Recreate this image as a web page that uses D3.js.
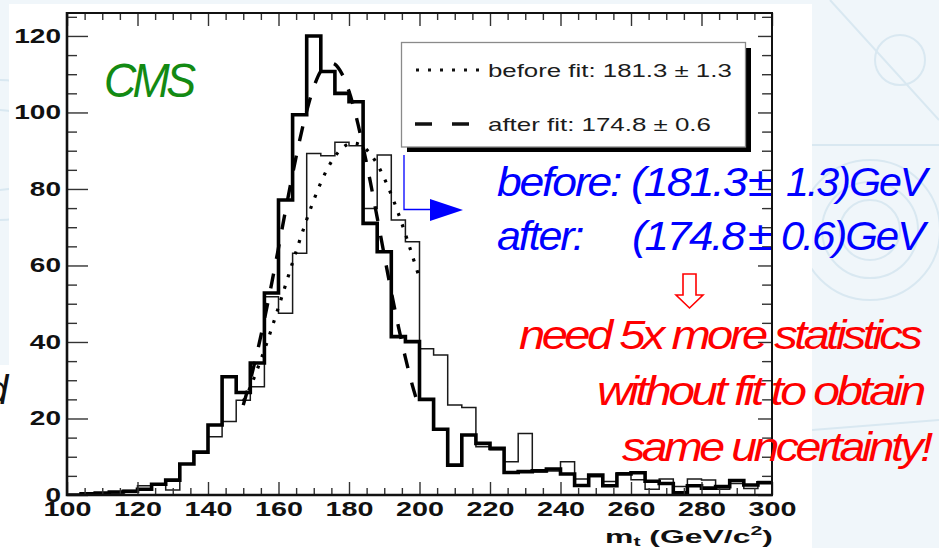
<!DOCTYPE html>
<html>
<head>
<meta charset="utf-8">
<script src="https://cdn.jsdelivr.net/npm/d3@7"></script>
<style>
  html, body { margin: 0; padding: 0; background: #ffffff; }
  svg { display: block; }
  text { font-family: "Liberation Sans", Arial, Helvetica, sans-serif; }
</style>
</head>
<body>
<svg id="chart" width="939" height="548"></svg>
<script>
// ---- data ---------------------------------------------------------------
// bin edges of the reconstructed top-mass histograms (GeV/c^2)
const binEdges = [100,104,108,112,116,120,124,128,132,136,140,144,148,152,156,160,164,168,172,176,
                  180,184,188,192,196,200,204,208,212,216,220,224,228,232,236,240,244,248,252,256,
                  260,264,268,272,276,280,284,288,292,296,300];
// entries per bin after the kinematic fit (thick line)
const afterFitCounts = [0,0.3,0.5,0.8,1.0,1.5,2.8,3.9,8.1,11.2,18.3,30.9,26.8,34.5,52.8,77.1,99.4,120,110.7,105,
                        102.8,71,63.6,41.4,40.1,25,17.2,7.8,15.7,13.5,12.2,5.9,6.1,6.3,6.8,5.5,2.5,5.2,2.4,5.5,
                        5.8,3.6,3.0,0.6,2.4,1.8,2.2,3.8,2.6,3.2];
// entries per bin before the fit (thin line)
const beforeFitCounts = [0,0,0.3,0.5,1.2,2.4,2.6,1.3,8.1,11.2,15.2,19.2,24.8,28.3,51.8,47.5,63.2,89.3,88.7,92.2,
                         91.3,74.9,88.9,71.9,66.2,38.2,36.6,23.5,22.9,12.6,11.8,8.7,16.1,6.1,6.3,8.7,4.2,4.8,3.5,5.8,
                         4.0,1.5,4.2,2.2,4.2,3.9,1.5,3.0,1.7,3.5];
// fitted curves, sampled along the mass axis
const curveMass = [150,152,154,156,158,160,162,164,166,168,170,172,174,176,178,180,182,184,186,188,190,192,194,196,198,200];
const beforeCurve = [24.5,28.2,32.9,37.9,43.4,49.1,54.9,60.8,66.5,72.0,77.1,81.6,85.5,88.5,90.6,91.8,91.9,91.1,89.2,86.5,82.8,78.5,73.6,68.2,62.5,56.7];
const afterCurve = [23.5,30.0,37.5,45.9,55.0,64.6,74.4,83.9,92.7,100.4,106.6,110.8,112.8,112.6,110.1,105.5,99.0,91.0,82.1,72.5,62.7,53.1,44.1,35.9,28.6,22.4];
// axis ticks
const xTickValues = [100,120,140,160,180,200,220,240,260,280,300];
const yTickValues = [0,20,40,60,80,100,120];
const xMinorValues = [105,110,115,125,130,135,145,150,155,165,170,175,185,190,195,205,210,215,225,230,235,245,250,255,265,270,275,285,290,295];
const yMinorValues = [5,10,15,25,30,35,45,50,55,65,70,75,85,90,95,105,110,115,125];
const legendLabels = ["before fit: 181.3 \u00b1 1.3", "after fit: 174.8 \u00b1 0.6"];

// ---- helpers ------------------------------------------------------------
const svg = d3.select("#chart");
// stretch a text node horizontally so that its box spans [left, left+width]
function fit(node, left, width) {
  const bb = node.getBBox();
  const s = width / bb.width;
  node.setAttribute("transform", `translate(${left},0) scale(${s},1) translate(${-bb.x},0)`);
}

// ---- slide background ---------------------------------------------------
const bg = svg.append("g");
bg.append("rect").attr("width", 939).attr("height", 548).attr("fill", "#f0f6fa");
const deco = bg.append("g").attr("fill", "none").attr("stroke", "#d9e8f1").attr("stroke-width", 2);
[[870, 230, 30], [870, 230, 48], [870, 230, 70], [900, 60, 25], [0, 150, 40], [0, 150, 70]].forEach(c =>
  deco.append("circle").attr("cx", c[0]).attr("cy", c[1]).attr("r", c[2]));
deco.append("path").attr("d", "M812,145 L939,145 M812,430 L939,420 M830,0 L939,120");
// white slide panel
bg.append("rect").attr("x", 9).attr("y", 4).attr("width", 803).attr("height", 544).attr("fill", "#ffffff");
bg.append("rect").attr("x", 0).attr("y", 365).attr("width", 10).attr("height", 183).attr("fill", "#ffffff");

// ---- scales -------------------------------------------------------------
const x = d3.scaleLinear().domain([100, 300]).range([67, 772]);
const y = d3.scaleLinear().domain([0, 126]).range([495, 13]);

const plot = svg.append("g");
plot.append("rect").attr("x", 67).attr("y", 13).attr("width", 705).attr("height", 482).attr("fill", "#fff");

svg.append("defs").append("clipPath").attr("id", "frameClip")
  .append("rect").attr("x", 67).attr("y", 13).attr("width", 705).attr("height", 482);

// ---- histograms ---------------------------------------------------------
function stepPoints(counts) {
  const pts = [];
  counts.forEach((c, i) => { pts.push([binEdges[i], c]); pts.push([binEdges[i + 1], c]); });
  return pts;
}
const line = d3.line().x(d => x(d[0])).y(d => y(d[1]));
const hist = plot.append("g").attr("clip-path", "url(#frameClip)");
hist.append("path").attr("d", line(stepPoints(beforeFitCounts)))
  .attr("fill", "none").attr("stroke", "#1a1a1a").attr("stroke-width", 1.5).attr("stroke-linejoin", "miter");
hist.append("path").attr("d", line(stepPoints(afterFitCounts)))
  .attr("fill", "none").attr("stroke", "#000").attr("stroke-width", 3.6).attr("stroke-linejoin", "miter");

// ---- fitted curves ------------------------------------------------------
const curve = d3.line().x((d, i) => x(curveMass[i])).y(d => y(d)).curve(d3.curveCatmullRom);
hist.append("path").attr("d", curve(beforeCurve))
  .attr("fill", "none").attr("stroke", "#000").attr("stroke-width", 3.2)
  .attr("stroke-dasharray", "3,9");
hist.append("path").attr("d", curve(afterCurve))
  .attr("fill", "none").attr("stroke", "#000").attr("stroke-width", 3.4)
  .attr("stroke-dasharray", "15,15");

// ---- axes (ticks drawn inside the frame) --------------------------------
const tickStyle = g => {
  g.select(".domain").remove();
  g.selectAll(".tick line").attr("stroke", "#333").attr("stroke-width", 1.4);
};
const labelStyle = g => g.selectAll("text").attr("fill", "#111").attr("font-size", 20)
  .attr("font-weight", "bold").attr("font-family", "'Liberation Sans', Arial, sans-serif");

const axL = svg.append("g").attr("transform", "translate(67,0)")
  .call(d3.axisLeft(y).tickValues(yTickValues).tickSizeInner(-21).tickSizeOuter(0).tickPadding(6).tickFormat(d3.format("d")))
  .call(tickStyle).call(labelStyle);
axL.selectAll("text").each(function () { const w = this.textContent.length * 15.6; fit(this, -6 - w, w); });
svg.append("g").attr("transform", "translate(67,0)")
  .call(d3.axisLeft(y).tickValues(yMinorValues).tickSizeInner(-10).tickSizeOuter(0).tickFormat(""))
  .call(tickStyle);

svg.append("g").attr("transform", "translate(772,0)")
  .call(d3.axisRight(y).tickValues(yTickValues).tickSizeInner(-14).tickSizeOuter(0).tickFormat(""))
  .call(tickStyle);
svg.append("g").attr("transform", "translate(772,0)")
  .call(d3.axisRight(y).tickValues(yMinorValues).tickSizeInner(-10).tickSizeOuter(0).tickFormat(""))
  .call(tickStyle);

const axB = svg.append("g").attr("transform", "translate(0,495)")
  .call(d3.axisBottom(x).tickValues(xTickValues).tickSizeInner(-13).tickSizeOuter(0).tickPadding(7).tickFormat(d3.format("d")))
  .call(tickStyle).call(labelStyle);
axB.selectAll("text").each(function () { fit(this, -24, 48); });
svg.append("g").attr("transform", "translate(0,495)")
  .call(d3.axisBottom(x).tickValues(xMinorValues).tickSizeInner(-7).tickSizeOuter(0).tickFormat(""))
  .call(tickStyle);

svg.append("g").attr("transform", "translate(0,13)")
  .call(d3.axisTop(x).tickValues(xTickValues).tickSizeInner(-13).tickSizeOuter(0).tickFormat(""))
  .call(tickStyle);
svg.append("g").attr("transform", "translate(0,13)")
  .call(d3.axisTop(x).tickValues(xMinorValues).tickSizeInner(-7).tickSizeOuter(0).tickFormat(""))
  .call(tickStyle);

// frame
const frame = svg.append("g").attr("stroke", "#111").attr("fill", "none");
frame.append("path").attr("d", "M67,13 H772 V495").attr("stroke-width", 2);
frame.append("path").attr("d", "M67,12 V495 H773").attr("stroke-width", 2.6);

// axis title
const xTitle = svg.append("text").attr("x", 607).attr("y", 543)
  .attr("font-size", 18).attr("font-weight", "bold").attr("fill", "#111");
xTitle.append("tspan").text("m");
xTitle.append("tspan").attr("font-size", 12).attr("dy", 3).text("t");
xTitle.append("tspan").attr("dy", -3).text(" (GeV/c");
xTitle.append("tspan").attr("font-size", 12).attr("dy", -8).text("2");
xTitle.append("tspan").attr("dy", 8).text(")");
fit(xTitle.node(), 605, 168);

// ---- legend -------------------------------------------------------------
const leg = svg.append("g");
leg.append("rect").attr("x", 407).attr("y", 48).attr("width", 344).attr("height", 104).attr("fill", "#000");
leg.append("rect").attr("x", 401.5).attr("y", 42.5).attr("width", 344).attr("height", 104.5)
  .attr("fill", "#fff").attr("stroke", "#8a8a8a").attr("stroke-width", 1.3);
leg.append("line").attr("x1", 416).attr("x2", 480).attr("y1", 70).attr("y2", 70)
  .attr("stroke", "#111").attr("stroke-width", 3.2).attr("stroke-dasharray", "3,9");
leg.append("line").attr("x1", 415).attr("x2", 472).attr("y1", 124).attr("y2", 124)
  .attr("stroke", "#111").attr("stroke-width", 3.4).attr("stroke-dasharray", "17,20");
const legText = leg.selectAll("text.lab").data(legendLabels).join("text").attr("class", "lab")
  .attr("x", 488).attr("y", (d, i) => 77 + i * 54).attr("font-size", 19).attr("fill", "#1c1c1c").text(d => d);
legText.each(function (d, i) { fit(this, 488, i === 0 ? 244 : 223); });

// ---- annotations --------------------------------------------------------
const cms = svg.append("text").attr("x", 105).attr("y", 97).attr("font-size", 48)
  .attr("font-style", "italic").attr("fill", "#138a13").attr("letter-spacing", -4).text("CMS");
fit(cms.node(), 104, 92);

// blue arrow from the legend to the numbers
svg.append("path").attr("d", "M404,155 V209.5 H432").attr("fill", "none").attr("stroke", "#0000ff").attr("stroke-width", 1.3);
svg.append("path").attr("d", "M430,199 L463,210 L430,221 Z").attr("fill", "#0000ff");

const blue = svg.append("g").attr("fill", "#0000ff").attr("font-style", "italic").attr("font-size", 41);
const bluePieces = [
  ["before:", 497, 196, 124], ["(181.3", 631, 196, 117], ["\u00b1", 748, 196, 24], ["1.3)GeV", 786, 196, 145],
  ["after:", 497, 250, 86], ["(174.8", 632, 250, 114], ["\u00b1", 748, 250, 24], ["0.6)GeV", 781, 250, 148]
];
bluePieces.forEach(p => {
  const t = blue.append("text").attr("x", p[1]).attr("y", p[2]).attr("letter-spacing", -2).text(p[0]);
  fit(t.node(), p[1], p[3]);
});

// red hollow arrow
svg.append("path").attr("d", "M683,274 H696 V295 H703 L689.5,308 L676,295 H683 Z")
  .attr("fill", "#fff").attr("stroke", "#ff0000").attr("stroke-width", 1.6);

const red = svg.append("g").attr("fill", "#ff0000").attr("font-style", "italic").attr("font-size", 40);
const redLines = [["need 5x more statistics", 519, 349, 404], ["without fit to obtain", 597, 405, 328], ["same uncertainty!", 622, 461, 311]];
redLines.forEach(p => {
  const t = red.append("text").attr("x", p[1]).attr("y", p[2]).attr("letter-spacing", -3).text(p[0]);
  fit(t.node(), p[1], p[3]);
});

// remnant of a neighbouring slide caption
svg.append("text").attr("x", -14).attr("y", 404).attr("font-size", 40).attr("font-style", "italic")
  .attr("fill", "#111").text("d");
</script>
</body>
</html>
